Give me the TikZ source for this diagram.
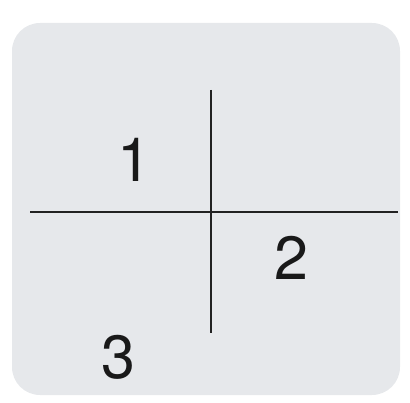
\documentclass[tikz,border=0pt]{standalone}
\usepackage{fontspec}
\setmainfont{TeX Gyre Heros}
\usetikzlibrary{positioning}
\definecolor{panelgray}{RGB}{230,232,235}
\definecolor{linegray}{RGB}{34,34,34}

\tikzset{
  quadnum/.style={font=\fontsize{61}{61}\selectfont, text=black!90, inner sep=0pt},
  axisline/.style={draw=linegray, line width=2.2pt}
}

\begin{document}
\begin{tikzpicture}[x=1pt, y=1pt]
  \useasboundingbox (0,0) rectangle (410,402);
  \fill[panelgray, rounded corners=28pt] (12,7) rectangle (400,379);

  % the two cutting lines
  \coordinate (hleft) at (30,190);
  \coordinate (hright) at (398,190);
  \coordinate (vtop) at (211,312);
  \coordinate (vbot) at (211,69);
  \draw[axisline] (hleft) -- (hright);
  \draw[axisline] (vtop) -- (vbot);

  \node[quadnum] (one) at (134,242) {1};
  \node[quadnum] (two) at (291,144) {2};
  \node[quadnum] (three) at (118,45) {3};
\end{tikzpicture}
\end{document}
